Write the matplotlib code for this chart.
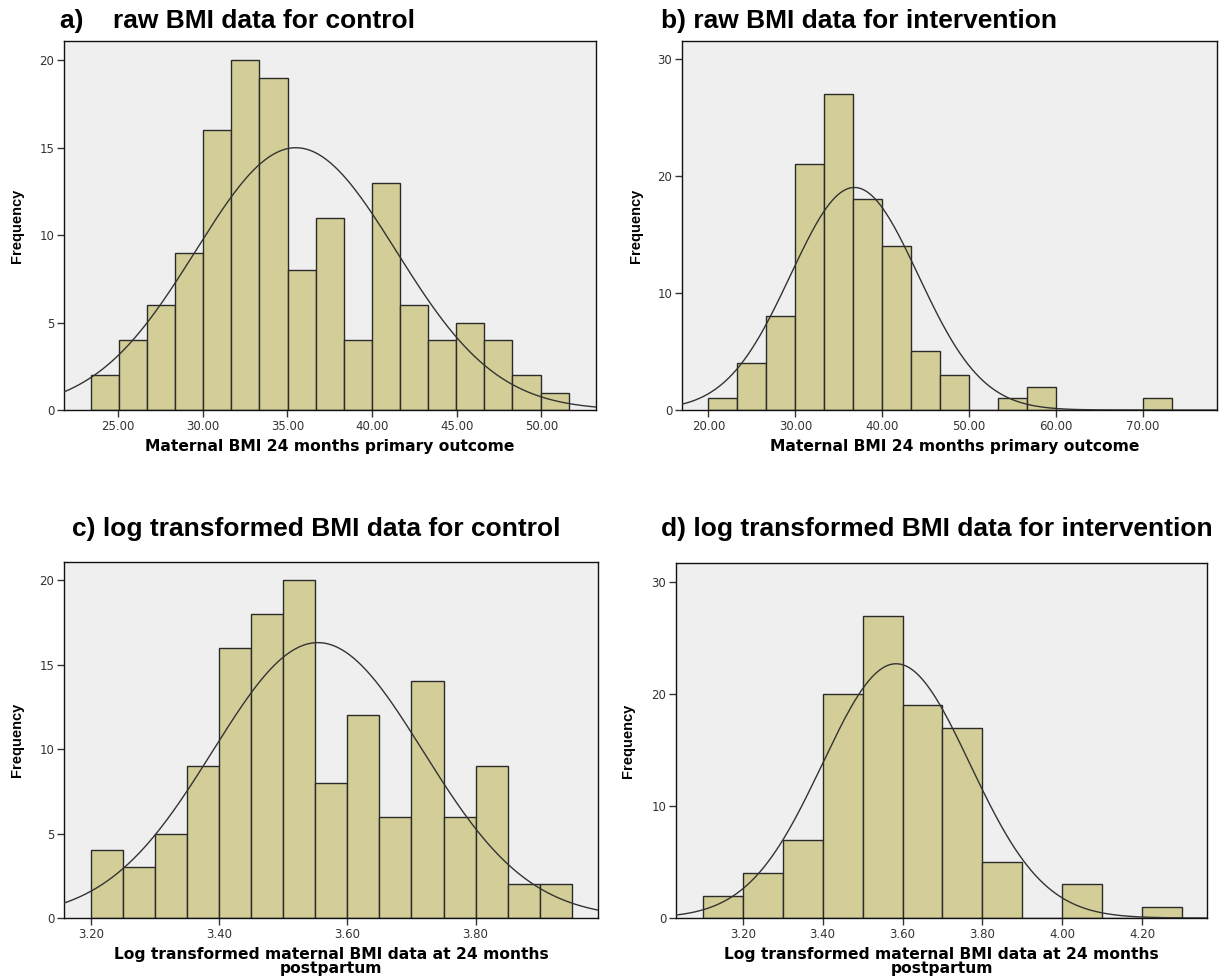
import numpy as np
import matplotlib
matplotlib.use('Agg')
import matplotlib.pyplot as plt
from matplotlib import font_manager

# histogram counts
a_counts = [2, 4, 6, 9, 16, 20, 19, 8, 11, 4, 13, 6, 4, 5, 4, 2, 1]
a_start, a_width = 23.39, 1.66
a_mean, a_sd, a_n = 35.5, 5.92, 134

b_counts = [1, 4, 8, 21, 27, 18, 14, 5, 3, 0, 1, 2, 0, 0, 0, 1]
b_start, b_width = 20.0, 10 / 3
b_mean, b_sd, b_n = 36.8, 7.35, 105

c_counts = [4, 3, 5, 9, 16, 18, 20, 8, 12, 6, 14, 6, 9, 2, 2]
c_start, c_width = 3.20, 0.05
c_mean, c_sd, c_n = 3.554, 0.164, 134

d_counts = [2, 4, 7, 20, 27, 19, 17, 5, 0, 3, 0, 1]
d_start, d_width = 3.10, 0.10
d_mean, d_sd, d_n = 3.584, 0.1845, 105

a_xticks = [25, 30, 35, 40, 45, 50]
b_xticks = [20, 30, 40, 50, 60, 70]
c_xticks = [3.2, 3.4, 3.6, 3.8]
d_xticks = [3.2, 3.4, 3.6, 3.8, 4.0, 4.2]

titles = ['a)    raw BMI data for control',
          'b) raw BMI data for intervention',
          'c) log transformed BMI data for control',
          'd) log transformed BMI data for intervention']
raw_label = 'Maternal BMI 24 months primary outcome'
log_label = 'Log transformed maternal BMI data at 24 months\npostpartum'

installed = {f.name for f in font_manager.fontManager.ttflist}
narrow = 'Liberation Sans Narrow' if 'Liberation Sans Narrow' in installed else 'Liberation Sans'
title_size = 18 if narrow == 'Liberation Sans Narrow' else 19
ylab_size = 12.5 if narrow == 'Liberation Sans Narrow' else 10.5

W, H = 1225, 977
fig = plt.figure(figsize=(W / 100, H / 100), dpi=100)

def px_axes(l, r, t, b):
    return fig.add_axes([l / W, 1 - b / H, (r - l) / W, (b - t) / H])

def panel(ax, start, width, counts, mean, sd, n, xlim, ylim, xticks, yticks, xlabel, fmt):
    edges = start + width * np.arange(len(counts) + 1)
    ax.set_facecolor('#EFEFEF')
    ax.bar(edges[:-1], counts, width=width, align='edge', color='#D3CE97',
           edgecolor='#2b2b2b', linewidth=1.0, zorder=2)
    xs = np.linspace(xlim[0], xlim[1], 400)
    ys = n * width / (sd * np.sqrt(2 * np.pi)) * np.exp(-0.5 * ((xs - mean) / sd) ** 2)
    ax.plot(xs, ys, color='#333333', linewidth=1.0, zorder=3)
    ax.set_xlim(*xlim)
    ax.set_ylim(*ylim)
    ax.set_xticks(xticks)
    ax.set_xticklabels([fmt % t for t in xticks])
    ax.set_yticks(yticks)
    ax.set_yticklabels([str(t) for t in yticks])
    ax.tick_params(direction='out', length=5, width=1, color='#333333',
                   labelsize=8.5, labelcolor='#333333', pad=2)
    for s in ax.spines.values():
        s.set_color('#111111')
        s.set_linewidth(1.0)
    ax.set_xlabel(xlabel, fontsize=11.2, fontweight='bold', family='DejaVu Sans',
                  linespacing=1.0, va='center')
    ax.set_ylabel('Frequency', fontsize=ylab_size, fontweight='bold', family=narrow, va='center')

ax_a = px_axes(64, 596, 41, 410)
panel(ax_a, a_start, a_width, a_counts, a_mean, a_sd, a_n, (21.81, 53.22), (0, 21.09),
      a_xticks, [0, 5, 10, 15, 20], raw_label, '%.2f')
ax_a.xaxis.set_label_coords(0.5, -37 / 369)
ax_a.yaxis.set_label_coords(-47 / 532, 0.5)

ax_b = px_axes(682, 1217, 41, 410)
panel(ax_b, b_start, b_width, b_counts, b_mean, b_sd, b_n, (16.95, 78.55), (0, 31.5),
      b_xticks, [0, 10, 20, 30], raw_label, '%.2f')
ax_b.xaxis.set_label_coords(0.51, -37 / 369)
ax_b.yaxis.set_label_coords(-46 / 535, 0.5)

ax_c = px_axes(64, 598, 562, 918)
panel(ax_c, c_start, c_width, c_counts, c_mean, c_sd, c_n, (3.158, 3.991), (0, 21.07),
      c_xticks, [0, 5, 10, 15, 20], log_label, '%.2f')
ax_c.xaxis.set_label_coords(0.5, -43.5 / 356)
ax_c.yaxis.set_label_coords(-47 / 534, 0.5)

ax_d = px_axes(676, 1207, 563, 918)
panel(ax_d, d_start, d_width, d_counts, d_mean, d_sd, d_n, (3.033, 4.362), (0, 31.7),
      d_xticks, [0, 10, 20, 30], log_label, '%.2f')
ax_d.xaxis.set_label_coords(0.5, -43.5 / 355)
ax_d.yaxis.set_label_coords(-48 / 531, 0.5)

title_pos = [(60, 21), (661, 21), (72, 529), (661, 529)]
for (x, y), t in zip(title_pos, titles):
    fig.text(x / W, 1 - y / H, t, fontsize=title_size, fontweight='bold', family=narrow,
             ha='left', va='center')

fig.savefig('out.png', dpi=100, facecolor='white')
